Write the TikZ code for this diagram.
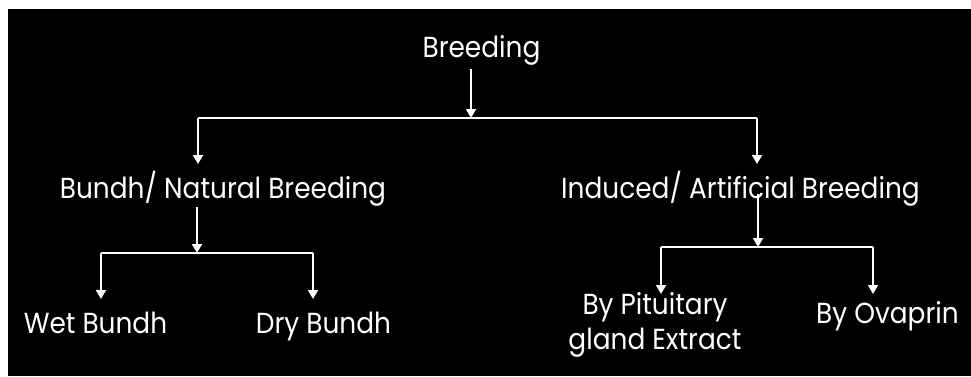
\documentclass[tikz,border=0pt]{standalone}
\usepackage{fontspec}
\setmainfont{Poppins}[FakeStretch=0.91]
\usetikzlibrary{arrows.meta}
\begin{document}
\begin{tikzpicture}[x=1pt,y=-1pt,
  lbl/.style={text=white,font=\fontsize{29}{35}\selectfont,inner sep=0pt,anchor=base,align=center},
  conn/.style={draw=white,line width=1.8pt},
  arr/.style={conn,-{Triangle[width=10pt,length=9pt]}}]
\useasboundingbox (0,0) rectangle (971,376);
\fill[white] (0,0) rectangle (971,376);
\fill[black] (8,9) rectangle (971,376);
% nodes
\node[lbl] (breed) at (481.5,57) {Breeding};
\node[lbl] (nat) at (223,198) {Bundh/ Natural Breeding};
\node[lbl] (ind) at (740.5,198) {Induced/ Artificial Breeding};
\node[lbl] (wet) at (95.5,333) {Wet Bundh};
\node[lbl] (dry) at (323.5,333) {Dry Bundh};
\node[lbl] (pit) at (655,349) {By Pituitary\\gland Extract};
\node[lbl] (ova) at (887.5,323) {By Ovaprin};
% connector points
\coordinate (b0) at (471,69);
\coordinate (b1) at (471,118);
\coordinate (bl) at (198,118);
\coordinate (br) at (757,118);
\coordinate (natT) at (198,164);
\coordinate (indT) at (757,164);
\coordinate (n0) at (197,207);
\coordinate (n1) at (197,253);
\coordinate (nl) at (101,253);
\coordinate (nr) at (313,253);
\coordinate (wetT) at (101,299);
\coordinate (dryT) at (313,299);
\coordinate (i0) at (758,194);
\coordinate (i1) at (758,247);
\coordinate (il) at (661,247);
\coordinate (ir) at (873,247);
\coordinate (pitT) at (661,294);
\coordinate (ovaT) at (873,294);
% connectors
\draw[arr] (b0) -- (b1);
\draw[conn] (bl) -- (br);
\draw[arr] (bl) -- (natT);
\draw[arr] (br) -- (indT);
\draw[arr] (n0) -- (n1);
\draw[conn] (nl) -- (nr);
\draw[arr] (nl) -- (wetT);
\draw[arr] (nr) -- (dryT);
\draw[arr] (i0) -- (i1);
\draw[conn] (il) -- (ir);
\draw[arr] (il) -- (pitT);
\draw[arr] (ir) -- (ovaT);
\end{tikzpicture}
\end{document}
